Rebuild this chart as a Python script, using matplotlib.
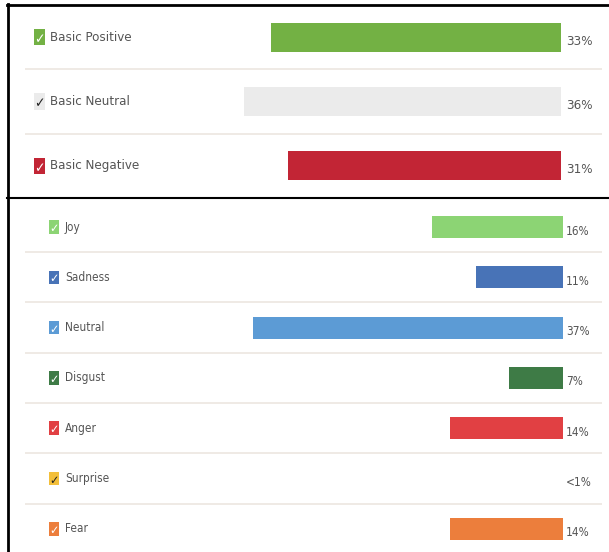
import matplotlib
matplotlib.use("Agg")
import matplotlib.pyplot as plt
from matplotlib.patches import Rectangle

# basic sentiment
basic_names = ["Basic Positive", "Basic Neutral", "Basic Negative"]
basic_values = [33, 36, 31]
basic_labels = ["33%", "36%", "31%"]
basic_colors = ["#73b144", "#ebebeb", "#c22535"]
basic_checks = ["white", "#222222", "white"]

# emotions
emo_names = ["Joy", "Sadness", "Neutral", "Disgust", "Anger", "Surprise", "Fear"]
emo_values = [15.6, 10.4, 37, 6.4, 13.5, 0, 13.5]
emo_labels = ["16%", "11%", "37%", "7%", "14%", "<1%", "14%"]
emo_colors = ["#8cd474", "#4873b7", "#5c9bd5", "#3e7b46", "#e14043", "#f3bf3a", "#ec7e3c"]
emo_checks = ["white", "white", "white", "white", "white", "#222222", "white"]

W, H = 609, 552
FONT = ["DejaVu Sans"]
TXT = "#555555"
SEP = "#ece6e0"

fig = plt.figure(figsize=(W / 100, H / 100), dpi=100)


def px_axes(x0, y0, x1, y1):
    return fig.add_axes([x0 / W, 1 - y1 / H, (x1 - x0) / W, (y1 - y0) / H])


def panel(ax, names, values, labels, colors, checks, zero_px, per_pct, bar_h,
          fs, box, txt_x, box_x, dy):
    x0, x1 = 7, 609
    ax.set_xlim((zero_px - x0) / per_pct, -(x1 - zero_px) / per_pct)
    n = len(names)
    ax.barh(range(n), values, height=bar_h, color=colors, edgecolor="none")
    ax.axis("off")
    # separators
    for i in range(n - 1):
        ax.plot([(zero_px - 25) / per_pct, -(602 - zero_px) / per_pct], [i + 0.5, i + 0.5],
                color=SEP, lw=1.2, solid_capstyle="butt")
    tr = ax.get_yaxis_transform()
    for i, name in enumerate(names):
        bw, bh = box
        bx = (box_x - x0) / (x1 - x0)
        ax.add_patch(Rectangle((bx, i - bh / 2), bw / (x1 - x0), bh, transform=tr,
                               facecolor=colors[i], edgecolor="none", clip_on=False))
        ax.text(bx + bw / (x1 - x0) / 2, i + 0.03, "\u2713", transform=tr, ha="center",
                va="center", fontsize=fs * 1.05, color=checks[i], family="DejaVu Sans",
                fontweight="bold", fontstretch="condensed")
        ax.text((txt_x - x0) / (x1 - x0), i, name, transform=tr, ha="left", va="center",
                fontsize=fs, color=TXT, family=FONT, fontstretch="condensed")
        ax.text(-(566 - zero_px) / per_pct, i + dy, labels[i], ha="left", va="center",
                fontsize=fs, color=TXT, family=FONT, fontstretch="condensed")


ax1 = px_axes(7, 5, 609, 198)
ax1.set_ylim(2.5, -0.5)
panel(ax1, basic_names, basic_values, basic_labels, basic_colors, basic_checks,
      561, 8.8, 0.45, 9.5, (11, 0.25), 50, 34, 0.06)

ax2 = px_axes(7, 198, 609, 552)
ax2.set_ylim(6.46, -0.577)
panel(ax2, emo_names, emo_values, emo_labels, emo_colors, emo_checks,
      563, 8.38, 0.44, 8.5, (10, 0.27), 65, 49, 0.08)

# frame lines
bx = fig.add_axes([0, 0, 1, 1])
bx.set_xlim(0, W)
bx.set_ylim(H, 0)
bx.axis("off")
bx.patch.set_alpha(0)
bx.plot([7, 609], [5, 5], color="black", lw=2)
bx.plot([7.5, 7.5], [4, 552], color="black", lw=2)
bx.plot([7, 609], [198, 198], color="black", lw=1.5)

fig.savefig("out.png", dpi=100)
